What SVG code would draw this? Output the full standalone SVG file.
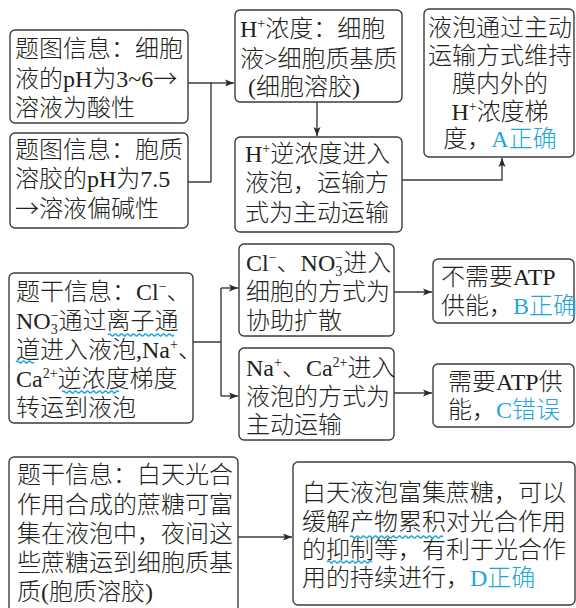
<svg xmlns="http://www.w3.org/2000/svg" width="576" height="608" viewBox="0 0 576 608">
<defs>
<style>
.box{fill:#fff;stroke:#3c3c3c;stroke-width:1.4}
.t{font-family:"Liberation Serif","Noto Sans CJK SC",serif;font-size:24px;font-weight:300;fill:#231f20}
.blue{fill:#1ea5e0}
.sup{font-size:14px}
.ar{font-family:"Noto Sans CJK SC",sans-serif}
.conn{fill:none;stroke:#3c3c3c;stroke-width:1.4}
.wave{fill:none;stroke:#1ea5e0;stroke-width:1.3}
</style>
<marker id="arr" markerWidth="10" markerHeight="8" refX="9" refY="4" orient="auto" markerUnits="userSpaceOnUse">
<path d="M0,0.5 L9,4 L0,7.5 L2,4 Z" fill="#2a2a2a"/>
</marker>
</defs>
<rect width="576" height="608" fill="#fff"/>

<g id="connectors">
<path class="conn" d="M188,83 H211 V182 M188,182 H211"/>
<path class="conn" d="M211,83 H234" marker-end="url(#arr)"/>
<path class="conn" d="M317,102 V136" marker-end="url(#arr)"/>
<path class="conn" d="M402,180 H502 V158" marker-end="url(#arr)"/>
<path class="conn" d="M193,342 H221 M221,288 V396"/>
<path class="conn" d="M221,288 H238" marker-end="url(#arr)"/>
<path class="conn" d="M221,396 H238" marker-end="url(#arr)"/>
<path class="conn" d="M394,292 H432" marker-end="url(#arr)"/>
<path class="conn" d="M394,393 H432" marker-end="url(#arr)"/>
<path class="conn" d="M238,537 H292" marker-end="url(#arr)"/>
</g>

<g id="n1">
<rect class="box" x="10" y="30" width="178" height="93" rx="5"/>
<text class="t" x="15" y="57">题图信息：细胞</text>
<text class="t" x="15" y="87">液的pH为3~6<tspan class="ar">→</tspan></text>
<text class="t" x="15" y="116">溶液为酸性</text>
</g>

<g id="n2">
<rect class="box" x="10" y="133" width="178" height="95" rx="5"/>
<text class="t" x="15" y="158">题图信息：胞质</text>
<text class="t" x="15" y="187">溶胶的pH为7.5</text>
<text class="t" x="15" y="217"><tspan class="ar">→</tspan>溶液偏碱性</text>
</g>

<g id="n3">
<rect class="box" x="235" y="10" width="167" height="92" rx="5"/>
<text class="t" x="240" y="37">H<tspan class="sup" baseline-shift="9">+</tspan>浓度：细胞</text>
<text class="t" x="240" y="67">液&gt;细胞质基质</text>
<text class="t" x="248" y="95">(细胞溶胶)</text>
</g>

<g id="n4">
<rect class="box" x="235" y="137" width="167" height="95" rx="5"/>
<text class="t" x="245" y="162">H<tspan class="sup" baseline-shift="9">+</tspan>逆浓度进入</text>
<text class="t" x="245" y="191">液泡，运输方</text>
<text class="t" x="245" y="221">式为主动运输</text>
</g>

<g id="n5">
<rect class="box" x="424" y="9" width="150" height="148" rx="5"/>
<text class="t" x="500" y="36" text-anchor="middle">液泡通过主动</text>
<text class="t" x="500" y="64" text-anchor="middle">运输方式维持</text>
<text class="t" x="500" y="92" text-anchor="middle">膜内外的</text>
<text class="t" x="500" y="120" text-anchor="middle">H<tspan class="sup" baseline-shift="9">+</tspan>浓度梯</text>
<text class="t" x="500" y="147" text-anchor="middle">度，<tspan class="blue">A正确</tspan></text>
</g>

<g id="n6">
<rect class="box" x="9" y="273" width="184" height="150" rx="5"/>
<text class="t" x="16" y="300">题干信息：Cl<tspan class="sup" baseline-shift="9">−</tspan>、</text>
<text class="t" x="16" y="329">NO<tspan class="sup" baseline-shift="-5">3</tspan><tspan class="sup" dx="-7" baseline-shift="9">−</tspan>通过离子通</text>
<text class="t" x="16" y="358">道进入液泡,Na<tspan class="sup" baseline-shift="9">+</tspan>、</text>
<text class="t" x="16" y="387">Ca<tspan class="sup" baseline-shift="9">2+</tspan>逆浓度梯度</text>
<text class="t" x="16" y="416">转运到液泡</text>
<path class="wave" d="M108,335 q1.5,-2 3,0 t3,0 t3,0 t3,0 t3,0 t3,0 t3,0 t3,0 t3,0 t3,0 t3,0 t3,0 t3,0 t3,0 t3,0 t3,0 t3,0 t3,0 t3,0 t3,0 t3,0 t3,0"/>
<path class="wave" d="M16,362 q1.5,-2 3,0 t3,0 t3,0 t3,0 t3,0 t3,0"/>
<path class="wave" d="M62,392 q1.5,-2 3,0 t3,0 t3,0 t3,0 t3,0 t3,0 t3,0 t3,0 t3,0 t3,0 t3,0 t3,0 t3,0 t3,0 t3,0 t3,0 t3,0 t3,0 t3,0"/>
</g>

<g id="n7">
<rect class="box" x="239" y="244" width="155" height="92" rx="5"/>
<text class="t" x="246" y="271">Cl<tspan class="sup" baseline-shift="9">−</tspan>、NO<tspan class="sup" baseline-shift="-5">3</tspan><tspan class="sup" dx="-7" baseline-shift="9">−</tspan>进入</text>
<text class="t" x="246" y="300">细胞的方式为</text>
<text class="t" x="246" y="329">协助扩散</text>
</g>

<g id="n8">
<rect class="box" x="239" y="348" width="155" height="92" rx="5"/>
<text class="t" x="246" y="376">Na<tspan class="sup" baseline-shift="9">+</tspan>、Ca<tspan class="sup" baseline-shift="9">2+</tspan>进入</text>
<text class="t" x="246" y="405">液泡的方式为</text>
<text class="t" x="246" y="433">主动运输</text>
</g>

<g id="n9">
<rect class="box" x="433" y="259" width="141" height="64" rx="5"/>
<text class="t" x="441" y="285">不需要ATP</text>
<text class="t" x="441" y="314">供能，<tspan class="blue">B正确</tspan></text>
</g>

<g id="n10">
<rect class="box" x="433" y="364" width="141" height="63" rx="5"/>
<text class="t" x="448" y="390">需要ATP供</text>
<text class="t" x="448" y="418">能，<tspan class="blue">C错误</tspan></text>
</g>

<g id="n11">
<rect class="box" x="9" y="457" width="229" height="165" rx="5"/>
<text class="t" x="17" y="483">题干信息：白天光合</text>
<text class="t" x="17" y="513">作用合成的蔗糖可富</text>
<text class="t" x="17" y="542">集在液泡中，夜间这</text>
<text class="t" x="17" y="571">些蔗糖运到细胞质基</text>
<text class="t" x="17" y="600">质(胞质溶胶)</text>
</g>

<g id="n12">
<rect class="box" x="293" y="462" width="282" height="143" rx="5"/>
<text class="t" x="302" y="501">白天液泡富集蔗糖，可以</text>
<text class="t" x="302" y="530">缓解产物累积对光合作用</text>
<text class="t" x="302" y="558">的抑制等，有利于光合作</text>
<text class="t" x="302" y="586">用的持续进行，<tspan class="blue">D正确</tspan></text>
<path class="wave" d="M350,537 q1.5,-2 3,0 t3,0 t3,0 t3,0 t3,0 t3,0 t3,0 t3,0 t3,0 t3,0 t3,0 t3,0 t3,0 t3,0 t3,0 t3,0 t3,0 t3,0 t3,0 t3,0 t3,0 t3,0 t3,0 t3,0 t3,0 t3,0 t3,0 t3,0 t3,0 t3,0 t3,0"/>
<path class="wave" d="M327,562 q1.5,-2 3,0 t3,0 t3,0 t3,0 t3,0 t3,0 t3,0 t3,0 t3,0 t3,0 t3,0 t3,0 t3,0 t3,0 t3,0"/>
</g>
</svg>
